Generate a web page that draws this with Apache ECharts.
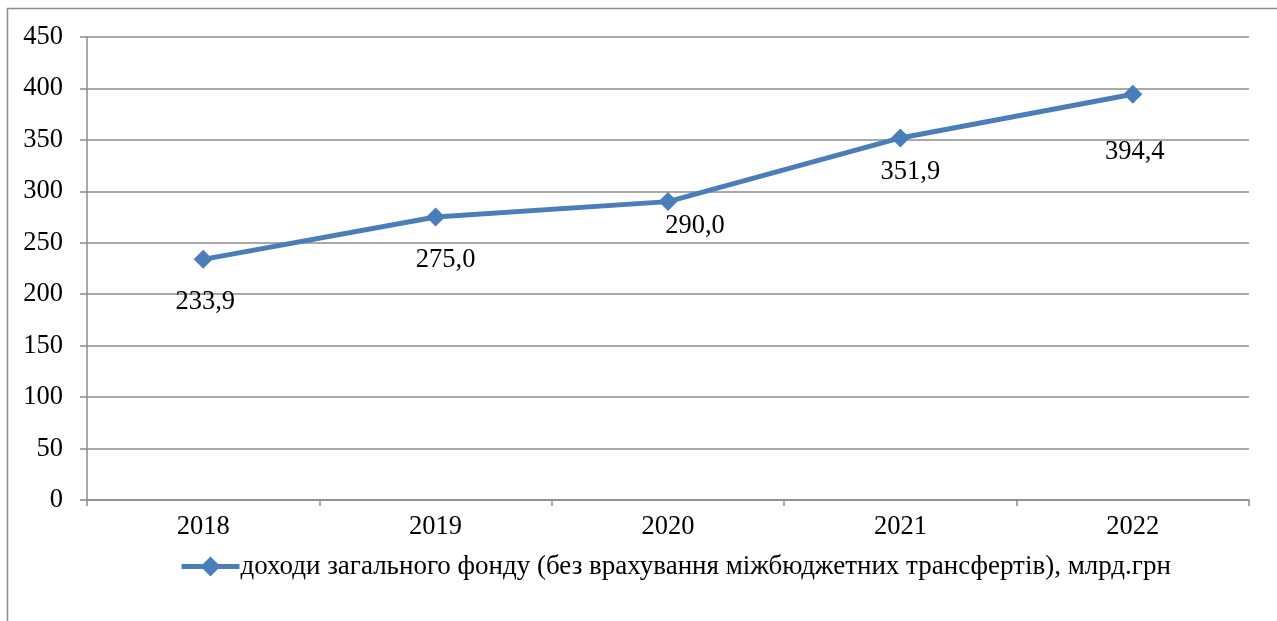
<!DOCTYPE html>
<html>
<head>
<meta charset="utf-8">
<script src="https://cdn.jsdelivr.net/npm/echarts@6/dist/echarts.min.js"></script>
<style>
html,body{margin:0;padding:0;background:#fff;}
#chart{width:1277px;height:621px;}
</style>
</head>
<body>
<div id="chart"></div>
<script>
const categories = ['2018', '2019', '2020', '2021', '2022'];
const seriesName = 'доходи загального фонду (без врахування міжбюджетних трансфертів), млрд.грн';
const values = [233.9, 275.0, 290.0, 351.9, 394.4];
const valueLabels = ['233,9', '275,0', '290,0', '351,9', '394,4'];
const labelOffsets = [[2, 43], [10, 43], [27, 24], [10, 34], [2, 58]];

const FONT = "'Liberation Serif', 'Times New Roman', serif";
const FS = 26.5;
const GRAY = '#8c8c8c';
const BLUE = '#4a7ebb';

const chart = echarts.init(document.getElementById('chart'));
chart.setOption({
  animation: false,
  backgroundColor: '#fff',
  graphic: [{
    type: 'rect',
    shape: { x: 7.5, y: 8.5, width: 1300, height: 700 },
    style: { fill: 'none', stroke: GRAY, lineWidth: 1.5 },
    silent: true
  }],
  grid: { left: 87, right: 28, top: 37, bottom: 121 },
  legend: {
    left: 174, top: 548,
    itemWidth: 58, itemHeight: 25, itemGap: 4,
    lineStyle: { width: 5, color: BLUE },
    textStyle: { fontFamily: FONT, fontSize: 27, color: '#000', padding: [0, 0, 0, -4] },
    data: [seriesName]
  },
  xAxis: {
    type: 'category',
    data: categories,
    boundaryGap: true,
    axisLine: { lineStyle: { color: GRAY, width: 1.5 } },
    axisTick: { show: true, length: 6, alignWithLabel: false, lineStyle: { color: GRAY, width: 1.5 } },
    axisLabel: { fontFamily: FONT, fontSize: FS, color: '#000', margin: 14 },
    splitLine: { show: false }
  },
  yAxis: {
    type: 'value',
    min: 0, max: 450, interval: 50,
    axisLine: { show: true, lineStyle: { color: GRAY, width: 1.5 } },
    axisTick: { show: true, length: 7, lineStyle: { color: GRAY, width: 1.5 } },
    axisLabel: { fontFamily: FONT, fontSize: FS, color: '#000', margin: 24 },
    splitLine: { show: true, lineStyle: { color: GRAY, width: 1.5 } }
  },
  series: [{
    name: seriesName,
    type: 'line',
    data: values.map((v, i) => ({
      value: v,
      label: { offset: labelOffsets[i], formatter: valueLabels[i] }
    })),
    symbol: 'diamond',
    symbolSize: 19,
    lineStyle: { color: BLUE, width: 5 },
    itemStyle: { color: BLUE },
    label: {
      show: true,
      position: 'inside',
      fontFamily: FONT, fontSize: FS, color: '#000'
    }
  }]
});
</script>
</body>
</html>
